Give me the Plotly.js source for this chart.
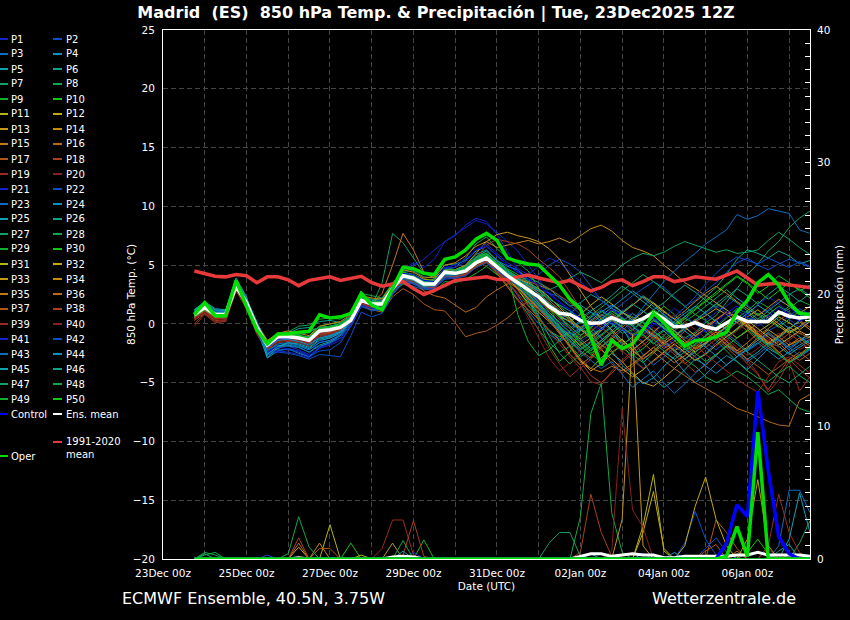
<!DOCTYPE html>
<html><head><meta charset="utf-8">
<script src="https://cdn.plot.ly/plotly-3.0.1.min.js"></script>
<style>html,body{margin:0;padding:0;background:#000;}#chart{width:850px;height:620px;}</style>
</head><body><div id="chart"></div>
<script>
// run start / step for the time axis (6-hourly steps from 23Dec2025 18z)
var runStart = Date.UTC(2025, 11, 23, 18);
var nSteps = 60;

// 1991-2020 climatological mean (°C)
var CLIM = [4.5,4.3,4.05,4.0,4.2,4.1,3.5,4.0,4.0,3.75, 3.25,3.7,3.85,4.0,3.7,3.85,4.05,3.5,3.2,3.4, 3.6,3.0,2.5,2.85,3.3,3.7,3.8,3.9,4.0,3.8, 3.75,4.0,4.15,3.9,3.7,3.5,3.7,3.25,2.8,3.1, 3.6,3.75,3.25,3.6,4.0,4.0,3.6,3.75,4.0,3.9, 3.8,4.15,4.5,3.9,3.3,3.4,3.45,3.3,3.2,3.1];
// ensemble mean
var T_MEAN = [0.8,1.4,0.8,0.8,3.2,1.8,-0.3,-1.8,-1.1,-1.1, -1.2,-1.4,-0.6,-0.5,-0.3,0.3,2.0,1.7,1.7,3.0, 4.1,3.9,3.4,3.4,4.4,4.3,4.5,5.2,5.6,4.8, 4.1,3.5,2.9,2.3,1.5,0.9,0.8,0.3,0.05,0.1, 0.55,0.15,0.1,0.45,0.95,0.4,-0.25,-0.2,0.1,-0.25, -0.45,0.05,0.6,0.2,0.2,0.2,1.0,0.65,0.5,0.6];
// operational run
var T_OPER = [0.8,1.8,0.7,0.7,3.7,1.5,-0.5,-1.7,-0.85,-0.85, -0.7,-0.65,0.77,0.5,0.6,0.9,2.6,1.6,1.2,3.0, 4.8,4.7,4.3,4.2,5.5,5.7,6.3,7.2,7.7,7.1, 5.6,5.3,5.1,5.0,4.2,3.3,2.1,1.3,-1.1,-3.5, -1.4,-2.1,-1.7,-0.5,0.9,0.1,-1.0,-1.9,-1.4,-1.35, -1.1,-0.7,1.0,2.0,3.5,4.2,3.3,1.8,0.9,0.8];
// control run
var T_CTRL = [0.8,1.5,0.8,0.8,3.3,1.8,-0.3,-2.0,-1.3,-1.2, -1.3,-1.5,-0.7,-0.5,-0.3,0.3,2.0,1.7,1.6,3.0, 4.3,4.2,3.7,3.6,4.8,5.0,5.5,6.3,6.6,5.8, 5.0,4.4,3.8,3.3,2.5,1.8,1.2,0.5,0.0,-0.5, 0.2,-0.4,-1.1,-0.6,0.1,-0.5,-1.2,-1.8,-1.2,-0.5, 0.2,0.9,1.5,0.8,0.1,0.7,1.4,0.8,0.2,0.7];

// members, 850 hPa temperature (°C)
var T_P1 = [1.0,1.7,1.0,1.1,3.0,1.5,-0.8,-2.4,-1.8,-1.9, -2.2,-2.6,-1.5,-1.2,-0.8,0.0,1.6,1.5,2.0,3.4, 4.6,5.2,4.8,5.5,7.0,7.6,8.2,8.8,8.5,7.8, 7.0,6.2,5.0,3.8,2.6,1.9,1.2,0.4,-0.3,0.5, 1.2,0.6,-0.4,-1.0,0.2,0.8,-0.5,-1.3,-0.9,0.3, 1.0,1.5,2.2,1.6,0.8,1.2,2.0,1.5,0.6,1.0];
var T_P2 = [0.9,1.5,0.9,0.7,3.1,1.7,-0.5,-2.0,-1.3,-1.5, -1.6,-1.9,-1.0,-0.9,-0.7,0.1,1.8,1.4,1.5,2.8, 3.8,3.6,3.0,3.2,4.0,4.1,4.6,5.4,6.0,5.3, 4.5,3.9,3.6,4.2,5.0,5.5,5.1,4.4,3.2,2.0, 1.4,0.3,-0.8,-1.5,-0.9,0.1,0.5,-0.2,-1.0,-1.6, -2.2,-1.5,-0.4,0.5,0.2,-0.6,-0.1,0.7,1.3,0.8];
var T_P3 = [0.6,1.2,0.7,0.6,3.3,1.9,-0.2,-2.5,-2.0,-1.7, -1.9,-2.2,-1.6,-1.4,-0.9,-0.2,1.5,1.2,1.3,2.5, 3.5,3.2,2.9,3.0,3.9,4.0,4.3,5.0,5.4,4.6, 3.6,2.4,1.1,0.0,-0.9,-1.5,-1.0,-0.4,-1.2,-2.0, -1.3,-0.5,-1.4,-2.6,-3.5,-2.8,-2.0,-2.4,-3.1,-2.5, -1.6,-0.8,-1.5,-2.3,-1.7,-0.9,-1.4,-2.0,-1.5,-1.1];
var T_P4 = [0.7,1.3,0.6,0.5,3.6,2.0,-0.1,-2.9,-2.3,-2.1, -2.5,-2.8,-2.0,-1.6,-1.2,0.0,1.8,1.9,2.2,3.3, 4.3,4.0,3.5,3.7,4.8,4.6,5.0,5.9,6.3,5.4, 4.9,4.6,3.8,2.5,1.2,0.4,0.9,1.6,1.0,0.2, -0.6,-1.8,-2.9,-3.8,-3.2,-2.4,-3.0,-4.1,-5.0,-4.3, -3.4,-2.7,-3.2,-3.9,-3.0,-2.1,-2.6,-3.3,-2.8,-2.2];
var T_P5 = [1.2,1.6,1.1,1.0,3.7,2.2,0.1,-2.7,-2.1,-1.8, -2.0,-2.4,-1.8,-1.5,-1.0,0.4,2.3,2.0,1.9,3.1, 4.0,3.7,3.2,3.3,4.2,4.5,4.9,5.6,5.9,5.0, 4.2,3.4,2.7,1.9,0.8,-0.3,-1.2,-2.1,-1.5,-0.6, 0.4,-0.3,-1.8,-3.2,-4.6,-5.4,-4.8,-3.9,-3.0,-3.5, -2.7,-1.8,-2.2,-3.0,-2.4,-1.6,-1.9,-2.6,-2.0,-1.4];
var T_P6 = [0.9,1.4,0.9,0.9,3.2,1.9,-0.4,-1.7,-0.9,-0.8, -0.4,-0.3,0.2,0.3,0.1,0.7,2.3,2.1,2.0,3.3, 4.5,4.5,4.0,3.9,5.0,5.1,5.4,6.2,6.6,5.8, 5.0,4.4,4.0,3.5,3.0,2.2,1.5,1.8,2.5,2.0, 1.3,0.9,1.6,2.4,1.8,0.7,0.0,0.6,1.5,2.3, 3.1,4.2,5.5,6.3,6.0,5.6,6.2,5.8,5.1,5.4];
var T_P7 = [0.8,1.3,0.7,0.6,3.0,1.6,-0.6,-2.2,-1.4,-1.3, -1.4,-1.6,-0.9,-0.7,-0.4,0.2,1.9,1.5,3.5,7.7, 6.9,5.6,4.3,3.9,4.2,4.0,4.8,5.5,5.2,4.3, 3.3,2.1,0.8,-0.5,-1.6,-2.4,-1.9,-1.0,-0.3,0.4, 0.0,-0.8,-0.5,0.3,1.0,0.4,-0.6,-1.2,-0.7,0.1, 0.7,1.8,3.0,4.2,5.1,6.2,7.0,8.2,9.0,9.6];
var T_P8 = [1.0,1.5,1.0,0.9,3.4,2.0,0.0,-1.5,-0.8,-0.7, -0.2,-0.1,0.4,0.5,0.4,0.9,2.6,2.4,2.2,3.5, 4.4,4.1,3.6,3.8,4.7,4.8,5.6,6.8,7.4,6.4, 5.6,5.2,4.5,3.0,1.4,-0.2,-1.8,-2.8,-2.2,-1.4, -0.7,-1.5,-2.6,-3.3,-2.5,-1.7,-2.2,-3.0,-3.6,-4.5, -5.0,-4.6,-4.0,-4.5,-5.2,-6.0,-5.6,-6.4,-7.2,-7.5];
var T_P9 = [0.5,1.1,0.5,0.4,2.9,1.4,-0.7,-2.1,-1.2,-1.0, -1.0,-1.1,-0.2,0.0,0.1,0.6,2.2,1.8,1.6,2.7, 3.4,3.1,2.6,2.7,3.6,3.5,3.8,4.3,4.9,4.2, 3.7,3.2,2.0,0.3,-1.8,-3.2,-2.4,-0.5,0.6,1.1, 0.5,-0.3,-0.9,-0.4,0.6,1.5,0.8,-0.2,0.3,1.0, 1.7,1.2,0.5,1.1,1.9,1.4,0.7,1.3,2.0,1.6];
var T_P10 = [0.7,1.2,0.6,0.6,3.3,1.9,-0.3,-1.9,-1.0,-1.2, -1.1,-1.3,-0.5,-0.6,-0.2,0.5,2.1,1.6,1.6,3.1, 4.0,3.8,3.3,3.1,4.0,4.1,4.3,5.0,5.5,4.6, 3.9,3.0,1.6,0.5,-0.6,-1.1,-0.8,-1.6,-2.5,-1.9, -1.2,-2.0,-2.7,-2.1,-1.3,-0.6,-1.4,-2.2,-1.8,-1.0, -0.3,0.5,1.3,0.9,0.2,0.8,1.5,1.0,0.4,0.9];
var T_P11 = [0.9,1.4,0.8,0.8,3.1,1.7,-0.2,-1.6,-1.0,-0.9, -1.0,-1.2,-0.4,-0.3,-0.1,0.4,2.0,1.8,1.9,3.2, 4.3,4.2,3.8,3.7,4.5,4.2,4.6,5.3,5.7,4.9, 4.0,2.9,1.8,1.0,0.2,-0.7,-1.9,-3.2,-3.8,-2.9, -2.0,-1.3,-2.2,-3.0,-2.3,-1.5,-0.8,-1.6,-2.4,-1.7, -1.0,-0.2,0.6,0.0,-0.7,-0.1,0.6,0.1,-0.5,0.2];
var T_P12 = [0.8,1.3,0.8,0.7,3.0,1.8,-0.4,-1.8,-1.2,-1.0, -1.1,-1.3,-0.7,-0.4,-0.2,0.3,1.8,1.6,1.8,3.2, 4.2,4.0,3.5,3.5,4.5,4.4,4.7,5.3,5.5,4.7, 3.8,3.5,2.9,2.0,1.3,0.6,0.2,-0.5,-1.1,-0.4, 0.3,1.0,0.5,-0.3,-1.0,-1.7,-1.1,-0.4,0.2,0.7, 1.3,0.8,0.1,0.6,1.2,0.5,-0.2,-0.8,-0.3,0.3];
var T_P13 = [0.9,1.5,0.9,0.9,3.3,1.8,-0.2,-1.7,-1.0,-1.0, -1.2,-1.5,-0.6,-0.4,-0.3,0.3,2.1,1.9,1.8,3.0, 4.0,3.9,3.4,3.5,4.5,4.3,4.4,5.0,5.3,4.4, 3.6,3.0,2.2,1.4,0.3,-0.8,-2.0,-3.1,-4.0,-3.4, -2.5,-3.2,-4.2,-5.0,-5.3,-4.6,-3.8,-3.0,-2.2,-1.6, -1.0,-1.8,-2.5,-2.0,-1.2,-0.5,-1.1,-1.8,-1.4,-0.8];
var T_P14 = [1.1,1.6,1.0,1.0,3.4,2.0,0.0,-1.4,-0.8,-0.6, -0.8,-1.0,-0.2,0.0,0.2,0.8,2.4,2.2,2.1,3.4, 4.6,4.4,3.9,4.0,5.0,5.2,5.8,6.6,7.0,6.5, 6.7,6.9,7.1,6.8,7.0,7.3,6.9,7.5,8.1,8.4, 7.9,7.1,6.5,6.2,5.8,5.0,4.3,3.5,3.0,2.4, 1.8,1.2,0.5,-0.2,-0.9,-1.6,-1.0,-0.3,-0.8,-1.2];
var T_P15 = [0.6,1.2,0.6,0.7,3.1,1.6,-0.5,-2.0,-1.3,-1.2, -1.3,-1.6,-0.8,-0.6,-0.4,0.2,1.9,1.7,2.6,5.0, 7.7,6.3,4.4,3.9,4.6,4.2,4.4,5.1,5.3,4.3, 3.2,2.0,1.2,0.4,-0.5,-1.4,-2.6,-3.5,-2.8,-1.6, -0.8,-0.1,0.4,-0.2,-0.9,-1.6,-2.3,-1.7,-0.8,-0.2, 0.4,1.0,0.6,-0.1,-0.8,-1.5,-2.4,-3.2,-2.6,-1.9];
var T_P16 = [0.8,1.3,0.8,0.8,3.2,1.8,-0.3,-1.9,-1.2,-1.2, -1.3,-1.5,-0.7,-0.5,-0.3,0.3,1.9,1.6,1.7,2.9, 4.0,3.9,3.3,3.3,4.3,4.2,4.4,5.0,5.5,4.7, 4.1,3.6,3.3,2.8,2.0,1.2,0.4,-0.3,0.2,0.8, 0.3,-0.4,-1.0,-1.6,-2.4,-3.1,-3.8,-4.4,-5.0,-5.5, -6.0,-6.6,-7.2,-7.5,-7.9,-8.3,-8.6,-8.7,-6.5,-6.0];
var T_P17 = [0.5,1.0,0.4,0.5,3.0,1.5,-0.6,-2.0,-1.3,-1.4, -1.5,-1.7,-0.9,-0.8,-0.5,0.1,1.6,1.2,1.0,2.3, 3.0,2.5,1.7,1.2,1.1,0.1,-1.1,-0.8,-0.6,-0.1, 0.5,1.3,1.9,1.2,0.4,-0.6,-1.5,-2.3,-2.9,-2.0, -1.1,-0.3,0.4,-0.4,-1.3,-2.1,-1.5,-0.6,0.2,-0.4, -1.2,-2.0,-2.8,-2.1,-1.4,-0.8,-1.6,-2.5,-3.1,-2.5];
var T_P18 = [0.3,0.9,0.3,0.2,3.1,1.6,-0.5,-1.8,-1.2,-1.3, -1.4,-1.6,-0.8,-0.7,-0.4,0.2,1.9,1.6,1.6,2.9, 3.9,3.8,3.2,3.2,4.2,4.2,4.6,5.6,6.7,7.2, 7.0,6.8,6.3,5.5,4.8,4.0,2.7,1.3,-0.5,-2.1, -3.4,-4.2,-3.6,-2.8,-2.0,-1.4,-2.2,-3.3,-4.1,-3.5, -2.7,-1.9,-2.5,-3.4,-4.3,-5.6,-4.2,-3.0,-3.9,-4.6];
var T_P19 = [-0.2,0.8,0.1,0.2,2.8,1.3,-0.9,-2.3,-1.6,-1.5, -1.6,-1.9,-1.1,-0.9,-0.6,0.0,1.7,1.4,1.4,2.7, 3.7,3.5,3.0,3.1,4.0,3.9,4.2,4.9,5.3,4.5, 3.6,2.5,1.0,-0.6,-2.1,-3.4,-4.5,-3.7,-4.9,-5.2, -4.0,-3.1,-2.3,-1.5,-0.8,-1.5,-2.4,-3.0,-2.2,-1.3, -0.6,-1.4,-2.2,-3.1,-4.2,-5.8,-4.8,-3.2,-5.7,-4.5];
var T_P20 = [0.4,1.0,0.5,0.4,3.0,1.7,-0.4,-2.1,-1.5,-1.3, -1.4,-1.6,-0.9,-0.6,-0.5,0.1,1.8,1.5,1.5,2.8, 3.8,3.7,3.1,3.2,4.1,4.0,4.2,4.8,5.2,4.4, 3.3,2.1,0.5,-1.2,-2.9,-4.0,-3.3,-2.2,-1.4,-0.9, -1.6,-2.4,-1.7,-0.9,-0.3,-1.0,-1.8,-2.5,-1.9,-1.1, -0.5,-1.2,-2.0,-2.7,-2.1,-1.4,-0.8,-1.5,-2.2,-1.6];
var T_P21 = [1.0,1.6,1.1,0.9,3.2,1.9,-0.4,-2.6,-2.3,-2.4, -2.6,-2.9,-2.1,-1.8,-1.4,-0.2,1.6,1.4,1.6,3.3, 4.6,5.0,5.5,6.3,7.0,7.5,8.4,9.0,8.7,7.6, 6.2,4.6,3.2,1.9,0.8,0.0,-0.8,-1.5,-0.9,-0.2, 0.5,1.2,0.6,-0.3,-1.2,-2.0,-1.3,-0.5,0.2,0.9, 1.5,1.0,0.3,0.8,1.6,2.3,1.7,1.0,0.4,0.9];
var T_P22 = [0.7,1.3,0.8,0.6,3.1,1.6,-0.7,-2.6,-2.4,-2.5, -2.7,-3.0,-2.6,-2.7,-2.8,-1.0,1.0,0.6,0.9,2.5, 3.6,3.4,3.0,3.0,3.8,3.9,4.1,4.8,5.3,4.6, 4.0,3.8,3.4,2.9,2.6,2.3,1.6,0.8,-0.2,0.3, 1.0,1.7,2.4,3.0,3.6,3.1,2.3,1.5,2.0,2.8, 3.5,4.4,5.2,5.6,5.0,4.6,5.1,5.5,5.2,4.8];
var T_P23 = [0.9,1.5,0.9,0.8,3.3,1.8,-0.2,-2.2,-1.8,-1.9, -2.0,-2.4,-1.9,-1.6,-1.0,0.2,1.7,1.3,1.2,2.6, 3.6,3.4,3.0,3.1,4.1,4.0,4.3,5.0,5.5,4.8, 4.3,3.6,2.5,1.7,0.8,0.2,-0.4,0.3,1.0,0.6, 0.0,-0.6,0.3,1.4,2.6,3.6,4.5,5.3,6.0,6.8, 7.4,8.0,9.3,8.9,9.2,9.8,9.6,9.4,8.0,7.7];
var T_P24 = [1.1,1.5,1.2,1.1,3.5,2.1,0.2,-1.7,-1.2,-1.1, -1.3,-1.7,-1.2,-1.0,-0.6,0.4,2.1,1.8,1.7,2.9, 3.9,3.7,3.3,3.2,4.2,4.4,4.8,5.7,6.2,5.4, 4.6,3.3,1.9,0.6,-0.6,-1.3,-0.6,0.2,-0.3,-1.2, -2.3,-3.5,-4.3,-5.1,-4.6,-3.6,-2.8,-2.1,-2.8,-3.6, -4.2,-3.5,-2.8,-2.2,-1.6,-2.3,-3.0,-2.4,-1.8,-1.3];
var T_P25 = [1.2,1.9,1.3,1.2,3.9,2.3,-0.4,-2.9,-2.0,-1.6, -1.8,-2.1,-1.4,-1.2,-0.8,0.2,2.1,1.7,1.5,2.9, 4.1,3.9,3.3,3.4,4.3,4.2,4.5,5.1,5.4,4.6, 3.8,3.3,3.0,2.4,1.6,0.6,-0.4,-1.3,-2.1,-1.4, -0.6,0.2,0.9,0.2,-0.6,-1.4,-2.3,-3.0,-2.4,-1.7, -1.0,-0.3,0.4,-0.3,-1.1,-1.8,-1.2,-0.5,-1.1,-1.7];
var T_P26 = [0.8,1.4,0.9,0.8,3.2,1.8,-0.3,-1.6,-0.8,-0.9, -1.0,-1.1,-0.4,-0.2,0.0,0.6,2.2,1.9,1.8,3.0, 4.2,4.0,3.6,3.5,4.4,4.6,4.9,5.6,6.0,5.1, 4.4,3.9,3.4,2.8,2.1,1.6,1.1,0.5,1.1,1.7, 2.4,3.2,2.6,1.9,1.2,1.8,2.6,3.3,2.7,2.0, 1.4,2.2,3.0,2.4,1.7,2.5,3.2,2.6,1.9,2.6];
var T_P27 = [0.9,1.5,0.9,0.8,3.3,1.9,-0.1,-1.6,-0.9,-0.8, -0.9,-0.7,-0.3,-0.2,0.0,0.5,2.2,1.9,1.7,3.1, 4.3,4.1,3.5,3.5,4.4,4.5,4.8,5.5,6.0,5.2, 4.5,4.0,3.8,3.3,2.9,3.3,3.9,4.4,4.0,3.5, 4.2,5.0,5.6,6.0,5.8,6.1,6.6,7.0,6.7,6.4, 6.1,6.3,6.0,6.1,6.3,7.1,7.8,7.2,6.5,5.9];
var T_P28 = [0.6,1.2,0.6,0.5,3.0,1.6,-0.5,-2.0,-1.3,-1.2, -1.2,-1.4,-0.6,-0.4,-0.2,0.3,2.0,1.6,1.6,2.9, 3.9,3.7,3.2,3.2,4.2,4.1,4.3,5.0,5.5,4.7, 4.0,3.3,2.2,0.7,-1.0,-2.5,-3.4,-2.6,-1.8,-1.0, -0.3,0.4,-0.2,-1.0,-1.7,-1.0,-0.2,0.5,0.0,-0.7, -1.4,-2.3,-3.2,-4.0,-4.6,-4.9,-4.2,-3.6,-4.4,-5.0];
var T_P29 = [0.7,1.3,0.7,0.6,3.1,1.7,-0.4,-1.8,-1.0,-1.0, -1.1,-1.3,-0.5,-0.4,-0.2,0.4,2.0,1.7,1.7,3.0, 4.1,3.9,3.3,3.4,4.3,4.3,4.6,5.4,5.9,5.1, 4.3,0.8,-1.5,-2.7,-2.2,-1.4,-0.7,-1.5,-2.3,-1.6, -0.8,-0.1,0.6,0.1,-0.6,-1.3,-0.6,0.2,0.8,0.3, -0.4,-1.1,-0.5,0.2,0.9,0.4,-0.3,0.4,1.1,0.6];
var T_P30 = [0.8,1.4,0.7,0.7,3.2,1.8,-0.2,-1.7,-0.9,-0.9, -1.0,-1.2,-0.5,-0.3,-0.1,0.4,2.1,1.8,1.8,3.2, 4.4,4.2,3.7,3.7,4.7,4.6,4.9,5.7,6.0,5.2, 4.6,4.0,3.2,2.2,1.0,0.1,-0.7,-1.3,-0.7,0.1, 0.9,0.3,-0.5,0.2,1.1,0.6,-0.2,0.4,1.2,1.9, 2.5,3.3,4.0,3.4,2.6,3.2,4.1,3.5,2.8,3.3];
var T_P31 = [0.9,1.3,0.8,0.9,3.2,1.7,-0.3,-1.8,-1.1,-1.1, -1.2,-1.4,-0.6,-0.5,-0.3,0.3,2.0,1.7,1.7,3.0, 4.0,3.8,3.3,3.3,4.3,4.2,4.4,5.1,5.5,4.7, 4.1,3.7,3.0,2.2,1.5,0.7,0.2,0.8,1.6,2.3, 1.7,1.0,0.3,1.0,1.8,1.1,0.4,-0.3,-1.0,-0.4, 0.3,-0.5,-1.2,-0.6,0.1,0.7,0.0,-0.7,-0.2,0.4];
var T_P32 = [0.7,1.3,0.7,0.7,3.1,1.7,-0.4,-1.9,-1.2,-1.2, -1.3,-1.5,-0.7,-0.5,-0.3,0.3,1.9,1.6,1.6,2.9, 3.9,3.7,3.2,3.3,4.3,4.3,4.5,5.2,5.6,4.8, 4.2,3.8,3.5,3.0,2.3,1.4,0.5,-0.4,-1.3,-2.2, -3.0,-3.8,-4.5,-3.9,-3.1,-2.4,-1.7,-2.4,-3.1,-2.6, -1.8,-1.1,-0.4,0.3,-0.4,-1.1,-1.8,-1.2,-0.6,-1.1];
var T_P33 = [1.0,1.5,0.9,0.9,3.3,1.9,-0.1,-1.6,-0.9,-0.9, -1.0,-1.2,-0.4,-0.3,-0.1,0.5,2.1,1.8,1.8,3.1, 4.2,4.0,3.5,3.6,4.6,4.6,5.0,6.0,7.0,7.6, 7.8,7.5,7.3,7.0,6.4,5.5,4.2,2.8,1.5,0.4, -0.5,-1.4,-2.2,-1.5,-0.7,0.1,-0.6,-1.4,-2.1,-1.6, -0.9,-0.2,0.5,-0.2,-1.0,-1.7,-1.1,-0.4,0.2,-0.5];
var T_P34 = [0.8,1.4,0.8,0.8,3.2,1.8,-0.3,-1.8,-1.1,-1.1, -1.2,-1.4,-0.6,-0.5,-0.3,0.3,2.0,1.7,1.7,3.0, 4.1,3.9,3.4,3.4,4.4,4.3,4.5,5.2,5.6,4.8, 4.0,3.1,2.2,1.3,0.6,-0.2,-1.0,-1.8,-1.2,-0.5, 0.2,0.9,1.6,2.3,1.7,1.0,0.4,1.1,1.9,2.6, 3.2,2.6,1.9,1.3,0.7,1.4,2.1,1.5,0.9,1.5];
var T_P35 = [0.7,1.2,0.7,0.8,3.0,1.6,-0.4,-1.9,-1.1,-1.2, -1.3,-1.4,-0.7,-0.6,-0.4,0.2,1.9,1.6,1.5,2.9, 3.9,3.6,3.1,3.2,4.1,4.1,4.3,4.9,5.3,4.5, 3.9,3.2,2.5,1.6,0.5,-0.7,-1.9,-3.0,-3.8,-4.1, -3.6,-4.0,-3.4,-2.7,-2.0,-2.6,-3.3,-2.7,-2.0,-1.3, -0.7,-1.5,-2.3,-1.6,-0.8,-1.6,-2.5,-1.8,-1.2,-1.9];
var T_P36 = [0.9,1.4,0.9,0.9,3.2,1.8,-0.2,-1.7,-1.0,-1.0, -1.1,-1.3,-0.5,-0.4,-0.2,0.4,2.0,1.7,1.8,3.1, 4.0,3.6,2.8,2.4,2.2,1.6,1.0,1.4,2.3,2.9, 3.4,3.6,3.2,2.6,1.8,1.0,0.3,-0.4,-1.1,-1.8, -2.4,-1.8,-1.1,-0.4,0.3,-0.3,-1.0,-1.7,-1.1,-0.4, 0.3,1.0,0.4,-0.3,-1.0,-0.4,0.3,0.9,0.3,-0.3];
var T_P37 = [0.6,1.2,0.6,0.6,3.0,1.6,-0.5,-2.0,-1.3,-1.3, -1.4,-1.6,-0.8,-0.6,-0.4,0.2,1.8,1.5,1.6,2.9, 3.9,3.7,3.2,3.2,4.2,4.1,4.4,5.1,5.5,4.7, 4.2,3.9,3.6,3.3,3.0,2.4,1.8,1.1,0.4,-0.3, -1.0,-1.6,-2.3,-3.0,-2.4,-1.7,-1.0,-0.3,0.4,-0.3, -1.0,-1.7,-2.4,-3.0,-3.6,-4.3,-3.7,-3.0,-2.4,-3.1];
var T_P38 = [0.5,1.1,0.5,0.5,3.0,1.6,-0.5,-2.1,-1.4,-1.3, -1.4,-1.6,-0.8,-0.7,-0.4,0.2,1.8,1.5,1.5,2.8, 3.8,3.6,3.1,3.1,4.1,4.0,4.2,4.9,5.3,4.5, 3.7,2.9,2.1,1.2,0.3,-0.8,-2.0,-3.3,-4.4,-5.0, -4.2,-3.3,-2.5,-1.8,-1.1,-1.8,-2.6,-3.4,-2.7,-2.0, -1.3,-0.6,0.1,-0.6,-1.4,-2.1,-1.5,-0.8,-1.5,-2.2];
var T_P39 = [0.0,0.9,0.2,0.3,2.9,1.4,-0.8,-2.2,-1.5,-1.4, -1.5,-1.7,-1.0,-0.8,-0.5,0.1,1.7,1.4,1.4,2.7, 3.7,3.5,3.0,3.0,4.0,3.9,4.1,4.8,5.2,4.4, 3.6,2.6,1.5,0.5,-0.6,-1.7,-2.8,-3.8,-3.0,-2.2, -1.5,-2.3,-3.1,-3.8,-3.2,-2.5,-1.8,-1.1,-1.8,-2.6, -3.3,-4.0,-4.7,-5.3,-5.8,-4.5,-3.2,-2.8,-3.5,-4.2];
var T_P40 = [0.4,1.0,0.4,0.4,3.0,1.6,-0.5,-2.0,-1.4,-1.3, -1.4,-1.6,-0.8,-0.6,-0.4,0.2,1.8,1.5,1.5,2.8, 3.8,3.6,3.1,3.2,4.2,4.1,4.3,5.0,5.4,4.6, 3.8,3.2,2.6,1.9,1.2,0.4,-0.4,-1.2,-0.6,0.1, 0.8,0.2,-0.5,-1.2,-0.6,0.1,0.8,0.2,-0.5,-1.2, -1.9,-1.3,-0.6,0.1,-0.6,-1.3,-2.0,-1.4,-0.7,-1.4];
var T_P41 = [1.0,1.6,1.0,1.0,3.3,1.9,-0.3,-2.4,-2.0,-2.1, -2.3,-2.7,-2.0,-1.7,-1.2,0.0,1.6,1.3,1.4,2.8, 3.9,3.8,3.4,3.6,4.7,4.8,5.3,6.3,6.8,6.0, 5.2,4.7,4.2,4.9,5.6,5.2,4.4,3.6,2.8,2.0, 1.3,0.6,-0.1,-0.8,-0.1,0.6,1.3,0.7,0.0,-0.7, -0.1,0.6,1.2,0.5,-0.2,0.5,1.1,0.4,-0.3,0.3];
var T_P42 = [0.8,1.5,0.8,0.7,3.2,1.7,-0.5,-2.5,-2.2,-2.2, -2.4,-2.8,-2.3,-2.2,-1.6,-0.2,1.5,1.1,1.2,2.6, 3.6,3.4,3.0,3.0,4.0,3.9,4.1,4.8,5.2,4.5, 3.9,3.2,2.4,1.5,0.6,-0.2,-0.9,-0.3,0.5,1.2, 0.6,-0.1,0.4,1.1,0.5,-0.2,0.6,1.4,2.3,3.4, 4.3,5.1,5.7,5.4,5.1,5.6,5.2,4.8,5.3,4.9];
var T_P43 = [1.1,1.7,1.1,1.0,3.5,2.0,-0.2,-2.3,-1.7,-1.6, -1.8,-2.2,-1.6,-1.4,-1.0,0.2,1.9,1.6,1.5,2.8, 3.8,3.5,3.1,3.2,4.1,4.1,4.4,5.1,5.5,4.7, 4.0,3.3,2.4,1.4,0.4,-0.6,-1.5,-2.4,-3.1,-3.8, -3.2,-4.3,-5.4,-4.7,-4.0,-5.0,-5.9,-5.1,-4.2,-3.4, -2.6,-1.9,-2.5,-3.2,-2.6,-1.9,-1.3,-2.0,-2.7,-2.1];
var T_P44 = [1.0,1.5,1.0,0.9,3.4,1.9,-0.2,-2.0,-1.4,-1.3, -1.5,-1.8,-1.2,-1.0,-0.7,0.3,2.0,1.7,1.6,2.9, 3.9,3.7,3.3,3.3,4.3,4.3,4.6,5.3,5.7,4.9, 4.3,3.8,3.1,2.3,1.5,0.8,0.1,-0.6,0.0,0.7, 1.4,2.1,2.8,2.2,1.5,0.8,0.1,-0.6,-1.3,-2.0, -2.7,-3.5,-2.8,-2.1,-1.4,-0.7,-1.4,-2.2,-1.5,-0.8];
var T_P45 = [1.2,1.8,1.2,1.1,3.7,2.1,-0.1,-2.6,-1.9,-1.6, -1.7,-2.0,-1.3,-1.1,-0.7,0.3,2.1,1.8,1.6,2.9, 4.0,3.7,3.2,3.3,4.2,4.2,4.5,5.2,5.6,4.8, 4.1,3.5,2.8,1.8,0.7,-0.4,-1.2,-0.5,0.3,1.0, 1.6,1.0,0.3,-0.4,-1.1,-0.5,0.2,0.9,1.5,0.9, 0.2,-0.5,0.2,0.9,1.6,1.0,0.3,-0.4,0.3,1.0];
var T_P46 = [0.9,1.4,0.9,0.8,3.2,1.8,-0.3,-1.7,-0.9,-0.9, -1.0,-1.2,-0.5,-0.3,-0.1,0.5,2.1,1.8,1.8,3.1, 4.2,4.0,3.5,3.5,4.5,4.4,4.7,5.4,5.8,5.0, 4.4,3.9,3.3,2.6,1.8,1.1,0.4,-0.3,-1.0,-0.4, 0.3,1.0,1.7,1.1,0.4,-0.3,-1.0,-0.4,0.3,1.0, 1.7,2.4,1.8,1.1,0.4,1.1,1.8,2.5,3.0,2.4];
var T_P47 = [0.7,1.3,0.7,0.7,3.1,1.7,-0.4,-1.8,-1.0,-1.0, -1.1,-1.3,-0.5,-0.4,-0.2,0.4,2.0,1.7,1.7,3.0, 4.1,3.9,3.4,3.4,4.4,4.3,4.6,5.3,5.7,4.9, 4.2,3.5,2.6,1.6,0.5,-0.5,-1.4,-2.2,-1.6,-0.9, -0.2,0.5,-0.2,-0.9,-1.6,-2.3,-3.0,-2.4,-1.7,-1.0, -0.3,-1.0,-1.7,-2.4,-3.1,-3.8,-4.5,-5.0,-4.3,-3.6];
var T_P48 = [0.8,1.4,0.8,0.8,3.3,1.8,-0.2,-1.6,-0.8,-0.8, -0.9,-0.6,-0.3,-0.2,0.0,0.6,2.2,1.9,1.9,3.2, 4.3,4.1,3.6,3.6,4.6,4.6,4.9,5.7,6.2,5.4, 4.7,4.2,3.6,2.9,2.2,1.5,0.8,0.1,0.7,1.4, 2.1,2.8,3.5,4.2,3.6,2.9,2.2,1.5,0.8,1.5, 2.2,2.9,2.2,1.5,0.8,0.1,0.8,1.5,0.8,0.1];
var T_P49 = [0.6,1.2,0.6,0.6,3.0,1.6,-0.5,-1.9,-1.1,-1.1, -1.2,-1.4,-0.6,-0.5,-0.3,0.3,1.9,1.6,1.6,2.9, 4.0,3.8,3.3,3.3,4.3,4.2,4.4,5.1,5.5,4.7, 4.0,3.3,2.5,1.6,0.7,-0.2,-1.1,-1.9,-2.6,-3.2, -2.5,-1.8,-1.1,-0.4,0.3,-0.4,-1.1,-1.8,-2.5,-3.2, -2.6,-1.9,-1.2,-0.5,-1.2,-1.9,-2.6,-3.3,-2.7,-2.0];
var T_P50 = [0.9,1.5,0.9,0.9,3.3,1.9,-0.2,-1.7,-0.9,-0.9, -1.0,-1.2,-0.4,-0.3,-0.1,0.5,2.1,1.8,1.8,3.1, 4.2,4.0,3.5,3.5,4.5,4.4,4.7,5.4,5.8,5.0, 4.3,3.7,3.0,2.2,1.4,0.6,-0.2,-1.0,-0.3,0.4, 1.1,0.5,-0.2,0.5,1.2,0.6,-0.1,0.6,1.3,2.0, 2.7,3.4,4.1,3.5,2.8,2.1,2.8,3.5,2.9,2.2];

// precipitation (mm per 6 h)
var R_MEAN = [0,0,0,0,0,0,0,0,0,0, 0.1,0,0,0,0,0,0,0,0,0.15, 0.2,0.15,0,0,0,0,0,0,0,0, 0,0,0,0,0,0,0,0.2,0.4,0.4, 0.2,0.3,0.4,0.3,0.3,0.1,0.1,0.2,0.2,0.2, 0.2,0.2,0.3,0.3,0.5,0.3,0.3,0.3,0.3,0.2];
var R_OPER = [0,0,0,0,0,0,0,0,0,0, 0,0,0,0,0,0,0,0,0,0, 0,0,0,0,0,0,0,0,0,0, 0,0,0,0,0,0,0,0,0,0, 0,0,0,0,0,0,0,0,0,0, 0,0.2,2.45,0.2,9.6,0,0,0,0,0];
var R_CTRL = [0,0,0,0,0,0,0,0,0,0, 0,0,0,0,0,0,0,0,0,0, 0,0,0,0,0,0,0,0,0,0, 0,0,0,0,0,0,0,0,0,0, 0,0,0,0,0,0,0,0,0,0, 0,1.2,4.1,3.2,12.7,6.7,1.7,0.4,0,0];
var R_P1 = [0,0,0,0,0,0,0,0,0,0, 0,0,0,0,0,0,0,0,0,0, 0,0,0,0,0,0,0,0,0,0, 0,0,0,0,0,0,0,0,0,0, 0,0,0,0,0,0,0,0,0,0, 0,0,0,0,0,0,0,0,0,0];
var R_P2 = [0,0,0,0,0,0,0,0,0,0, 0,0,0,0,0,0,0,0,0,0, 0,0,0,0,0,0,0,0,0,0, 0,0,0,0,0,0,0,0,0,0, 0,0,0,0,0,0,0,1.2,3.6,1.5, 0.3,0,0,0,0,0,0,0,0,0];
var R_P3 = [0,0,0,0,0,0,0,0,0,0, 0,0,0,0,0,0,0,0,0,0, 0,0,0,0,0,0,0,0,0,0, 0,0,0,0,0,0,0,0,0,0, 0,0,0,0,0,0,0,0,0,0, 0,0,0,0,0,0,1.0,5.2,5.2,3.5];
var R_P4 = [0,0,0,0,0,0,0,0,0,0, 0,0,0,0,0,0,0,0,0,0, 0,0,0,0,0,0,0,0,0,0, 0,0,0,0,0,0,0,0,0,0, 0,0,0,0,0,0,0,0,0,0, 0,0,0,0,0,0,0,0,0,0];
var R_P5 = [0,0,0,0,0,0,0,0,0,0, 0,0,0,0,0,0,0,0,0,0, 0,0,0,0,0,0,0,0,0,0, 0,0,0,0,0,0,0,0,0.4,0, 0,0,0,0,0,0,0,0,0,0, 0,0,0,0,0,0,0,0,0,0];
var R_P6 = [0,0,0,0,0,0,0,0,0,0, 0,0,0,0,0,0,0,0,0,0, 0,0,0,0,0,0,0,0,0,0, 0,0,0,0,0,0,0,0,0,0, 0,0,0,0,0,0,0,0,0,0, 0,0,0,0,0,0,0,0.3,0,0];
var R_P7 = [0,0,0,0,0,0,0,0,0,0, 0,0,0,0,0,0,0,0,0,0, 0,0,0,0,0,0,0,0,0,0, 0,0,0,0,0,0,0,0,0,0, 0,0,0,0,0,0,0,0,0,0, 0,0,0,0,0,0,0,0,1.2,2.9];
var R_P8 = [0,0.5,0.3,0,0,0,0,0,0,0, 0,0,0,0,0,0,0,0,0,0, 0,0,0,0,0,0,0,0,0,0, 0,0,0,0,0,0,0,3.2,11.0,13.3, 3.5,0.5,0,0,0,0,0,0,0,0, 0,0,0,0,0,0,0,0,0,0];
var R_P9 = [0,0.3,0.5,0,0,0,0,0,0,0, 0,0,0,0,0,0,0,0,0,0, 0,0,0,0,0,0,0,0,0,0, 0,0,0,0,0,0,0,0,0,0, 0,0,0,0,0,0,0,0,0,0, 0,0,0,0,0,0,0,0,0,0];
var R_P10 = [0,0,0,0,0,0,0,0,0,0, 0,0,0,0,0,0,0,0,0,0, 0,0,0,0,0,0,0,0,0,0, 0,0,0,0,0,0,0,0,0,0, 0,0,0,0,0,0,0,0,0,0, 0,0,0,0.5,1.5,0.4,0,0,0,0];
var R_P11 = [0,0,0,0,0,0,0,0,0,0, 0,0,0,2.6,0,0,0,0,0,0, 0,0,0,0,0,0,0,0,0,0, 0,0,0,0,0,0,0,0,0,0, 0,0,0,2.5,6.4,0.6,0,0,0,0, 0,0,0,0,0,0,0,0,0,0];
var R_P12 = [0,0,0,0,0,0,0,0,0,0, 0.9,0,0,0,0,0,0,0,0,0, 0,0,0,0,0,0,0,0,0,0, 0,0,0,0,0,0,0,0,0,0, 0,0,0,2.0,5.1,0.8,0,0,0,0, 0,0,0,0,0,0,0,0,0,0];
var R_P13 = [0,0,0,0,0,0,0,0,0,0, 0,0,0,0,0,0,0,0,0,1.2, 0,0,0,0,0,0,0,0,0,0, 0,0,0,0,0,0,0,0,0,0, 0,3.0,17.0,1.0,0,0,0,0,0,0, 0,0,0,0,0,0,0,0,0,0];
var R_P14 = [0,0,0,0,0,0,0,0,0,0, 0,0,1.2,0,0,0,0,0,0,0, 0,0,0,0,0,0,0,0,0,0, 0,0,0,0,0,0,0,0,0,0, 0,0,0,0,0,0,0,0,0,0, 0,0,0,0,0,0,0,0,0,0];
var R_P15 = [0,0,0,0,0,0,0,0,0,0, 0,0,0,0,0,0,0,0,0,0, 0,0,0,0,0,0,0,0,0,0, 0,0,0,0,0,0,0,0,0,0, 0,0,0,0,0,0,0,0,0,0, 0,0,0,0,0,0,0,0,0,0];
var R_P16 = [0,0,0,0,0,0,0,0,0,0, 1.2,0,0,0,0,0,0,0,0,0, 0,0,0,0,0,0,0,0,0,0, 0,0,0,0,0,0,0,0,0,0, 0,0,0,0,0,0,0,0,0,0, 0,0,0,0,0,0,0,0,0,0];
var R_P17 = [0,0,0,0,0,0,0,0,0,0, 0,0,0.8,0.8,0,0,0,0,0,0, 0,0,0,0,0,0,0,0,0,0, 0,0,0,0,0,0,0,0,0,0, 0,0,0,0,0,0,0,0,0,0, 2.95,2.0,0.8,0,0,0,0,0,0,0];
var R_P18 = [0,0,0,0,0,0,0,0,0,0, 1.6,0,0,0,0,0,0,0,0,0, 0,0,0,0,0,0,0,0,0,0, 0,0,0,0,0,0,0,0.5,4.9,2.0, 0.2,0,0,0,0,0,0,0,0,0, 0,0,0,0,0,0,0,0,0,0];
var R_P19 = [0,0,0,0,0,0,0,0,0,0, 0,0,0,0,0,0,0,0,0.8,2.95, 2.95,0.3,0,0,0,0,0,0,0,0, 0,0,0,0,0,0,0,0,0,0, 0,0,0,0,0,0,0,0,0,0, 0,0,0,0,0,1.0,4.9,2.0,0.5,0];
var R_P20 = [0,0,0,0,0,0,0,0,0,0, 0,0,0,0,0,0,0,0,0,0, 0,0,0,0,0,0,0,0,0,0, 0,0,0,0,0,0,0,0,0,0, 0.6,11.4,3.7,2.4,0,0,0,0,0,0, 0,0,0,0,0,0,0,0,0,0];
var R_P21 = [0,0,0,0,0,0,0,0,0,0, 0,0,0,0,0,0,0,0,0,0, 0,0,0,0,0,0,0,0,0,0, 0,0,0,0,0,0,0,0,0,0, 0,0,0,0,0,0,0,0,0,0, 0,0,0,0,0,0,0,0,0,0];
var R_P22 = [0,0,0,0,0,0,0,0.3,0,0, 0,0,0,0,0,0,0,0,0,0, 0,0,0,0,0,0,0,0,0,0, 0,0,0,0,0,0,0,0,0,0, 0,0,0,0,0,0,0,0,0,0, 0,0,0,0,0,0,0,0,0,0];
var R_P23 = [0,0,0,0,0,0,0,0,0,0, 0,0,0,0,0,0,0,0,0,0, 0,0,0,0,0,0,0,0,0,0, 0,0,0,0,0,0,0,0,0,0, 0,0,0,0,0,0,0,0,0,0, 0,0,0,0,0,0,0,0,0,0];
var R_P24 = [0,0,0,0,0,0,0,0,0,0, 0,0,0,0,0,0,0,0,0,0, 0,0,0,0,0,0,0,0,0,0, 0,0,0,0,0,0,0,0,0,0, 0,0,0,0.4,0,0,0,0,0,0, 0,0,0,0,0,0,0,0,0,0];
var R_P25 = [0,0,0,0,0,0,0,0,0,0, 0,0,0,0,0,0,0,0,0,0, 0,0,0,0,0,0,0,0,0,0, 0,0,0,0,0,0,0,0,0,0, 0,0,0,0,0,0,0,0,0,0, 0,0,0,0,0,0,0,1.5,5.0,2.0];
var R_P26 = [0,0,0,0,0,0,0,0,0,0, 0,0,0,0,0,0,0,0,0,0, 0,0,0,0,0,0,0,0,0,0, 0,0,0,0,0,0,0,0,0,0, 0,0,0,0,0,0,0,0,0,0, 0,0,0,0,0,0,0,0,0,0];
var R_P27 = [0,0.4,0,0,0,0,0,0,0,0, 0,0,0,0,0,0,0,0,0,0, 0,0,0,0,0,0,0,0,0,0, 0,0,0,0,0,0,0,0,0,0, 0,0,0,0,0,0,0,0,0,0, 0,0,0,0,0,0,0,0,0,0];
var R_P28 = [0,0,0,0,0,0,0,0,0,0.4, 3.2,0.9,0,0,0,0,0,0,0,0, 0,0,0,0,0,0,0,0,0,0, 0,0,0,0,0,0,0,0,0,0, 0,0,0,0,0,0,0,0,0,0, 0,0,0,0,0,0,0,0,0,0];
var R_P29 = [0,0,0,0,0,0,0,0,0,0, 0,0,0,0,0,0,0,0,0,0, 0,0,1.44,0,0,0,0,0,0,0, 0,0,0,0,0,0,0,0,0,0, 0,0,0,0,0,0,0,0,0,0, 0,0,0,0,0,0,0,0,0,0];
var R_P30 = [0,0,0,0,0,0,0,0,0,0, 0,0,0,0,0,1.2,0,0,0,0, 0,0,0,0,0,0,0,0,0,0, 0,0,0,0,0,0,0,0,0,0, 0,0,0,0,0,0,0,0,0,0, 0,0,0,0,0,0,0,0,0,0];
var R_P31 = [0,0,0,0,0,0,0,0,0,0, 0,0,0,0,0,0,0.3,0,0,0, 0,0,0,0,0,0,0,0,0,0, 0,0,0,0,0,0,0,0,0,0, 0,0,0,0,0,0,0,0,0,0, 0,0,0,0,0,0,0,0,0,0];
var R_P32 = [0,0,0,0,0,0,0,0,0,0, 0,0,0,0,0,0,0,0,0,0, 0,0,0,0,0,0,0,0,0,0, 0,0,0,0,0,0,0,0,0,0, 0,0,0,0,0,0,0,1.0,4.0,6.2, 3.0,1.0,0,0,0,0,0,0,0,0];
var R_P33 = [0,0,0,0,0,0,0,0,0,0, 0,0,0,0,0,0,0,0,0,0, 0,0,0,0,0,0,0,0,0,0, 0,0,0,0,0,0,0,0,0,0, 0,0,0,0,0,0,0,0,0,0, 0,0,0,1.5,6.0,1.0,0,0,0,0];
var R_P34 = [0,0,0,0,0,0,0,0,0,0, 0,0,0,0,0,0,0,0,0,0, 0,0,0,0,0,0,0,0,0,0, 0,0,0,0,0,0,0,0,0,0, 0,0,0,0,0,0,0,0,0,0, 0,0,0,0,0,0,0,0,0,0];
var R_P35 = [0,0,0,0,0,0,0,0,0,0, 0,0,0,0,0,0,0,0,0,0, 0,0,0,0,0,0,0,0,0,0, 0,0,0,0,0,0,0,0,0,0, 0,0,0,0,0,0,0,0,0,0, 0,0,0,0,0,0,0,0,0,0];
var R_P36 = [0,0,0,0,0,0,0,0,0,0, 0,0,0,0,0,0,0,0,0,0, 0,0,0,0,0,0,0,0,0,0, 0,0,0,0,0,0,0,0,0,0, 0,0,0,0,0,0,0,0,0,0, 0,0,0.6,0,0,0,0,0,0,0];
var R_P37 = [0,0,0,0,0,0,0,0,0,0, 0,0,0,0,0,0,0,0,0,0, 0,0,0,0,0,0,0,0,0,0, 0,0,0,0,0,0,0,0,0,0, 0,0,0,0,0,0,0,0,0,0.6, 1.1,0,0,0,0,0,0,0,0,0];
var R_P38 = [0,0,0,0,0,0,0,0,0,0, 0,0,0,0,0,0,0,0,0,0, 0.3,2.9,0.2,0,0,0,0,0,0,0, 0,0,0,0,0,0,0,0,0,0, 0,0,0,0,0,0,0,0,0,0, 0,0,0,0,0,0,0,0,0,0];
var R_P39 = [0,0,0,0,0,0,0,0,0,0, 0,0,0,0,0,0,0,0,0,0, 0,0,0,0,0,0,0,0,0,0, 0,0,0,0,0,0,0,0,0,0, 0,0,0,0,0,0,0,0,0,0, 0,0,0,0,0,0,0,0,0,0];
var R_P40 = [0,0,0,0,0,0,0,0,0,0, 0,0,0,0,0,0,0,0,0,0, 0,0,0,0,0,0,0,0,0,0, 0,0,0,0,0,0,0,0,0,0, 0,0,0,0,0,0,0,0,0,0, 0,0,0,0,0,0.8,0,0,0,0];
var R_P41 = [0,0,0,0,0,0,0,0,0,0, 0,0,0,0,0,0,0,0,0,0, 0,0.5,0,0,0,0,0,0,0,0, 0,0,0,0,0,0,0,0,0,0, 0,0,0,0,0,0,0,0,0,0, 0,0,0,0,0,0,0,0,0,0];
var R_P42 = [0,0,0,0,0,0,0,0,0,0, 0,0,0,0,0,0,0,0,0,0, 0,0,0,0,0,0,0,0,0,0, 0,0,0,0,0,0,0,0,0,0, 0,0,0,0,0,0,0,0,0,0.8, 1.6,0.5,0,0,0,0,0,0,0,0];
var R_P43 = [0,0,0,0,0,0,0,0,0,0, 0,0,0,0,0,0,0,0,0,0, 0,0,0,0,0,0,0,0,0,0, 0,0,0,0,0,0,0,0,0,0, 0,0,0,0,0,0,0,0,0,0, 0,0,0,0,0,0,0,0,0,0];
var R_P44 = [0,0,0,0,0,0,0,0,0,0, 0,0,0,0,0,0,0,0,0,0, 0,0,0,0,0,0,0,0,0,0, 0,0,0,0,0,0,0,0,0,0, 0,0,0,0,0,0,0.5,0,0,0, 0,0,0,0,0,0,0,0,0,0];
var R_P45 = [0,0,0,0,0,0,0,0,0,0, 0,0,0,0,0,0,0,0,0,0, 0.6,0,0,0,0,0,0,0,0,0, 0,0,0,0,0,0,0,0,0,0, 0,0,0,0,0,0,0,0,0,0, 0,0,0,0,0,0,0,0,0,0];
var R_P46 = [0,0,0,0,0,0,0,0,0,0, 0,0,0,0,0,0,0,0,0,0, 0,0,0,0,0,0,0,0,0,0, 0,0,0,0,0,0,0,0,0,0, 0,0,0,0,0,0,0,0,0,0, 0,0,0,0,0,0,0.6,1.1,0,0];
var R_P47 = [0,0,0,0,0,0,0,0,0,0, 0,0,0,0,0,0,0,0,0,0, 0,0,0,0,0,0,0,0,0,0, 0,0,0,0,1.2,2.0,2.0,0.2,0,0, 0,0,0,0,0,0,0,0,0,0, 0,0,0,0,0,0,0,0,0,0];
var R_P48 = [0,0,0,0,0,0,0,0,0,0, 0,0,0,0,0,0,0,0,0,0, 1.4,0,0,0,0,0,0,0,0,0, 0,0,0,0,0,0,0,0,0,0, 0,0,0,0,0,0,0,0,0,0, 0,0,0,0,0,0,0,0,0,0];
var R_P49 = [0,0,0,0,0,0,0,0,0,0, 0,0,0,0,0,0,0,0,0,0, 0,0,0,0,0,0,0,0,0,0, 0,0,0,0,0,0,0,0,0,0, 0,0,0,0,0,0,0,0,0,0, 0,0,0,0,0,0,0,0,0,0];
var R_P50 = [0,0,0,0,0,0,0,0,0,0, 0,0,0,0,0,0,0,0,0,0, 0,0,0,0,0,0,0,0,0,0, 0,0,0,0,0,0,0,0,0,0, 0,0,0,0,0,0,0,0,0,0, 0,0,0,0,0,0,0,0,0,0];

// member colour cycle (20 colours, repeated)
var PALETTE = ['#1424c8','#0c4ec8','#0c6ec0','#0c8ec4','#10a2ae','#10a08a','#10a068','#10a84a','#12b02c','#14c414',
               '#b4b414','#c4a814','#c49818','#c48a14','#c47814','#b86818','#b05618','#a84020','#982c20','#882020'];
var C_CTRL = '#0000ff', C_MEAN = '#ffffff', C_CLIM = '#e83a3a', C_OPER = '#00dd00';

// ---------- build ----------
var times = [];
for (var i = 0; i < nSteps; i++) {
  times.push(new Date(runStart + i * 6 * 3600 * 1000).toISOString().slice(0, 16).replace('T', ' '));
}
var traces = [];
var memberT = [], memberR = [];
for (var n = 1; n <= 50; n++) { memberT.push(window['T_P' + n]); memberR.push(window['R_P' + n]); }
function colOf(n) { return PALETTE[(n - 1) % 20]; }

for (var n = 1; n <= 50; n++) {
  traces.push({x: times, y: memberT[n - 1], mode: 'lines', line: {color: colOf(n), width: 1}, hoverinfo: 'skip'});
}
traces.push({x: times, y: T_CTRL, mode: 'lines', line: {color: C_CTRL, width: 1}, hoverinfo: 'skip'});
traces.push({x: times, y: CLIM, mode: 'lines', line: {color: C_CLIM, width: 3.5}, hoverinfo: 'skip'});
traces.push({x: times, y: T_MEAN, mode: 'lines', line: {color: C_MEAN, width: 3.5}, hoverinfo: 'skip'});
traces.push({x: times, y: T_OPER, mode: 'lines', line: {color: C_OPER, width: 3.5}, hoverinfo: 'skip'});
for (var n = 1; n <= 50; n++) {
  traces.push({x: times, y: memberR[n - 1], yaxis: 'y2', mode: 'lines', line: {color: colOf(n), width: 1}, hoverinfo: 'skip'});
}
traces.push({x: times, y: R_MEAN, yaxis: 'y2', mode: 'lines', line: {color: C_MEAN, width: 3}, hoverinfo: 'skip'});
traces.push({x: times, y: R_CTRL, yaxis: 'y2', mode: 'lines', line: {color: C_CTRL, width: 3.5}, hoverinfo: 'skip'});
traces.push({x: times, y: R_OPER, yaxis: 'y2', mode: 'lines', line: {color: C_OPER, width: 3.5}, hoverinfo: 'skip'});

// pixel -> paper helpers for legend / footer placement
var PL = 163, PR = 810, PT = 30, PB = 559;
function px(x) { return (x - PL) / (PR - PL); }
function py(y) { return (PB - y) / (PB - PT); }

var shapes = [], annotations = [];
function legendItem(label, color, col, yPix, textYPix) {
  var x0 = col ? 53 : 0, x1 = col ? 62 : 8, tx = col ? 64 : 9;
  shapes.push({type: 'line', xref: 'paper', yref: 'paper', x0: px(x0), x1: px(x1), y0: py(yPix), y1: py(yPix), line: {color: color, width: 2}});
  annotations.push({xref: 'paper', yref: 'paper', x: px(tx), y: py(textYPix === undefined ? yPix : textYPix), xanchor: 'left', yanchor: 'middle', align: 'left',
    text: label, showarrow: false, font: {family: 'DejaVu Sans', size: 10, color: '#fff'}});
}
for (var n = 1; n <= 50; n++) {
  var row = Math.floor((n - 1) / 2), col = (n - 1) % 2;
  legendItem('P' + n, colOf(n), col, 39 + 15 * row);
}
legendItem('Control', C_CTRL, 0, 414);
legendItem('Ens. mean', C_MEAN, 1, 414);
legendItem('1991-2020<br>mean', C_CLIM, 1, 442, 448);
legendItem('Oper', C_OPER, 0, 456);

annotations.push({xref: 'paper', yref: 'paper', x: px(120), y: py(598), xanchor: 'left', yanchor: 'middle', showarrow: false,
  text: 'ECMWF Ensemble, 40.5N, 3.75W', font: {family: 'DejaVu Sans', size: 16, color: '#fff'}});
annotations.push({xref: 'paper', yref: 'paper', x: px(650), y: py(598), xanchor: 'left', yanchor: 'middle', showarrow: false,
  text: 'Wetterzentrale.de', font: {family: 'DejaVu Sans', size: 16, color: '#fff'}});
// left axis title placed next to the tick labels
annotations.push({xref: 'paper', yref: 'paper', x: px(131), y: py(295), xanchor: 'center', yanchor: 'middle', showarrow: false,
  textangle: -90, text: '850 hPa Temp. (°C)', font: {family: 'DejaVu Sans', size: 10.5, color: '#fff'}});

var GRID = '#454545';
var layout = {
  width: 850, height: 620,
  paper_bgcolor: '#000', plot_bgcolor: '#000',
  margin: {l: PL, r: 850 - PR, t: PT, b: 620 - PB},
  showlegend: false,
  font: {family: 'DejaVu Sans', color: '#fff', size: 10.5},
  title: {text: 'Madrid\u00a0 (ES)\u00a0 850 hPa Temp. &amp; Precipitación | Tue, 23Dec2025 12Z',
          font: {family: 'DejaVu Sans', size: 16, weight: 'bold', color: '#fff'},
          x: 436 / 850, xanchor: 'center', y: 1 - 12 / 620, yanchor: 'middle'},
  xaxis: {type: 'date', range: ['2025-12-23 00:00', '2026-01-07 12:00'],
          tick0: '2025-12-23', dtick: 2 * 86400000, tickformat: '%d%b %Hz',
          showgrid: true, gridcolor: GRID, griddash: '5px,3px', gridwidth: 1,
          minor: {dtick: 86400000, showgrid: true, gridcolor: GRID, griddash: '5px,3px', gridwidth: 1},
          showline: true, linecolor: '#fff', linewidth: 1, mirror: true, zeroline: false, ticks: '',
          ticklabelstandoff: 4, tickfont: {size: 10.5, color: '#fff'},
          title: {text: 'Date (UTC)', font: {size: 10.5, color: '#fff'}, standoff: 5}},
  yaxis: {range: [-20, 25], dtick: 5, showgrid: true, gridcolor: GRID, griddash: '5px,3px', gridwidth: 1,
          showline: true, linecolor: '#fff', linewidth: 1, zeroline: false, ticks: '',
          ticklabelstandoff: 5, tickfont: {size: 10.5, color: '#fff'}},
  yaxis2: {overlaying: 'y', side: 'right', range: [0, 40], dtick: 10, showgrid: false, zeroline: false,
           showline: true, linecolor: '#fff', linewidth: 1,
           ticks: 'inside', ticklen: 5, tickcolor: '#fff', tickwidth: 1,
           minor: {dtick: 1, ticks: 'inside', ticklen: 5, tickcolor: '#fff', tickwidth: 1},
           ticklabelstandoff: 4, tickfont: {size: 10.5, color: '#fff'},
           title: {text: 'Precipitación (mm)', font: {size: 10.5, color: '#fff'}, standoff: 6}},
  shapes: shapes,
  annotations: annotations
};
Plotly.newPlot('chart', traces, layout, {staticPlot: true, displayModeBar: false});
</script>
</body></html>
